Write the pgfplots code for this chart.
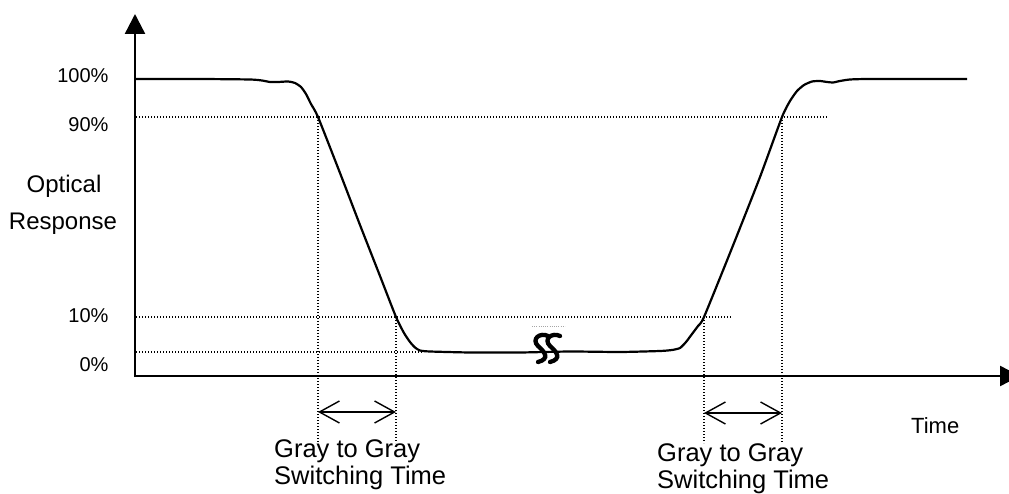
\documentclass[border=0pt]{standalone}
\usepackage{pgfplots}
\pgfplotsset{compat=1.18}
\usepackage{fontspec}
\setmainfont{Liberation Sans}
\usetikzlibrary{arrows.meta}
\begin{document}
\begin{tikzpicture}
\begin{axis}[scale only axis, width=1009pt, height=494pt,
  xmin=0, xmax=1009, ymin=0, ymax=494, y dir=reverse,
  hide axis, clip=false]
\coordinate (bl) at (axis cs:0,494);
\coordinate (tr) at (axis cs:1009,0);
% dotted guide lines
\addplot[line width=1.2pt, dash pattern=on 1.2pt off 1.8pt] coordinates {(136,117) (828,117)};
\addplot[line width=1.2pt, dash pattern=on 1.2pt off 1.8pt] coordinates {(136,317) (731,317)};
\addplot[line width=1.2pt, dash pattern=on 1.2pt off 1.8pt] coordinates {(136,352) (424,352)};
\addplot[line width=1.2pt, dash pattern=on 1.2pt off 1.8pt] coordinates {(318,117) (318,443)};
\addplot[line width=1.2pt, dash pattern=on 1.2pt off 1.8pt] coordinates {(396,317) (396,443)};
\addplot[line width=1.2pt, dash pattern=on 1.2pt off 1.8pt] coordinates {(704,317) (704,443)};
\addplot[line width=1.2pt, dash pattern=on 1.2pt off 1.8pt] coordinates {(782,117) (782,443)};
\addplot[line width=0.9pt, gray!70, dash pattern=on 0.9pt off 1.3pt] coordinates {(532,326) (565,326)};
% response curve
\addplot[line width=2.2pt, smooth, tension=0.35] coordinates {
(135,79) (200,79) (250,79.5) (262,80.5) (270,82) (278,82) (288,81.5) (295,83)
(301,87) (306,94) (311,104) (318,117) (340,173) (360,225) (380,276) (396,317)
(404,333) (410,342) (415,347.5) (420,350.5) (430,351.5) (470,352.5) (520,352.5)
(570,351.5) (620,352) (660,351) (672,350) (680,348) (686,342) (692,334) (698,326)
(704,317) (732,248) (760,177) (782,117) (790,101) (797,91) (804,85) (812,81.5)
(820,81) (827,82) (833,82.5) (840,81) (850,79.5) (870,79) (967,79)};
% axes
\draw[line width=2.4pt, -{Triangle[length=20pt,width=20pt]}] (axis cs:135,377.2) -- (axis cs:135,14);
\draw[line width=2.4pt, -{Triangle[length=20pt,width=20pt]}] (axis cs:133.8,376) -- (axis cs:1020,376);
% switching time arrows
\draw[line width=1.4pt, {Straight Barb[length=20pt,width=22pt]}-{Straight Barb[length=20pt,width=22pt]}] (axis cs:318,412) -- (axis cs:396,412);
\draw[line width=1.4pt, {Straight Barb[length=20pt,width=22pt]}-{Straight Barb[length=20pt,width=22pt]}] (axis cs:704,413) -- (axis cs:782,413);
% break symbol
\draw[line width=4.3pt, line cap=round] (axis cs:548,336) .. controls (axis cs:540,332) and (axis cs:531,339) .. (axis cs:538,346) .. controls (axis cs:545,352) and (axis cs:550,359) .. (axis cs:538,362);
\draw[line width=4.3pt, line cap=round] (axis cs:560,336) .. controls (axis cs:552,332) and (axis cs:543,339) .. (axis cs:550,346) .. controls (axis cs:557,352) and (axis cs:562,359) .. (axis cs:550,362);
% labels
\node[anchor=base east, font=\fontsize{20}{24}\selectfont] at (axis cs:112,83) {100\%};
\node[anchor=base east, font=\fontsize{20}{24}\selectfont] at (axis cs:112,132) {90\%};
\node[anchor=base east, font=\fontsize{20}{24}\selectfont] at (axis cs:112,323) {10\%};
\node[anchor=base east, font=\fontsize{20}{24}\selectfont] at (axis cs:112,371) {0\%};
\node[anchor=base, font=\fontsize{24}{28}\selectfont] at (axis cs:64,193) {Optical};
\node[anchor=base, font=\fontsize{24}{28}\selectfont] at (axis cs:63,230) {Response};
\node[anchor=base west, inner xsep=0pt, font=\fontsize{25.5}{28}\selectfont] at (axis cs:274,457) {Gray to Gray};
\node[anchor=base west, inner xsep=0pt, font=\fontsize{25.5}{28}\selectfont] at (axis cs:274,484) {Switching Time};
\node[anchor=base west, inner xsep=0pt, font=\fontsize{25.5}{28}\selectfont] at (axis cs:657,461) {Gray to Gray};
\node[anchor=base west, inner xsep=0pt, font=\fontsize{25.5}{28}\selectfont] at (axis cs:657,488) {Switching Time};
\node[anchor=base west, inner xsep=0pt, font=\fontsize{22}{26}\selectfont] at (axis cs:911,433) {Time};
\end{axis}
\pgfresetboundingbox
\path[use as bounding box] (bl) rectangle (tr);
\end{tikzpicture}
\end{document}
